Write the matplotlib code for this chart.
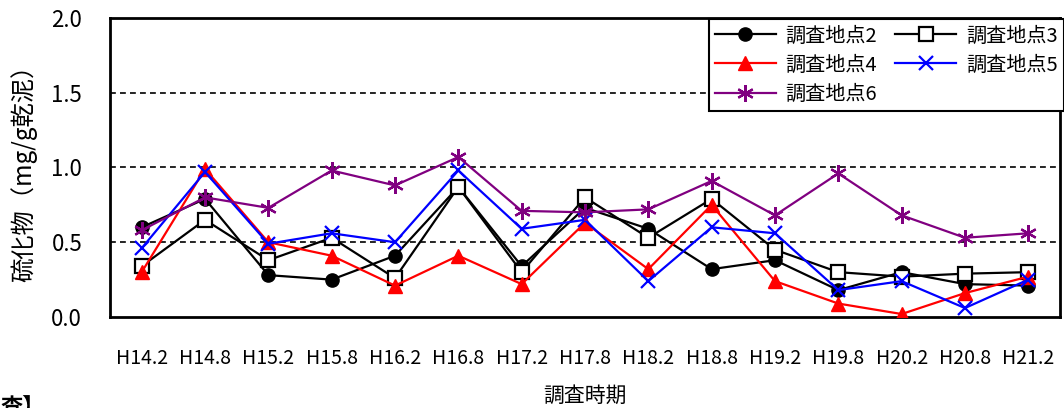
import numpy as np
import matplotlib
matplotlib.use('Agg')
import matplotlib.pyplot as plt

plt.rcParams['font.family'] = ['Noto Sans CJK JP', 'DejaVu Sans']

## ==========================
## data
## ==========================
periods = ['H14.2', 'H14.8', 'H15.2', 'H15.8', 'H16.2', 'H16.8', 'H17.2', 'H17.8',
           'H18.2', 'H18.8', 'H19.2', 'H19.8', 'H20.2', 'H20.8', 'H21.2']

site2 = [0.60, 0.79, 0.28, 0.25, 0.41, 0.87, 0.34, 0.73, 0.59, 0.32, 0.38, 0.18, 0.30, 0.22, 0.21]
site3 = [0.34, 0.65, 0.38, 0.53, 0.26, 0.87, 0.30, 0.80, 0.53, 0.79, 0.45, 0.30, 0.27, 0.29, 0.30]
site4 = [0.30, 0.99, 0.50, 0.41, 0.21, 0.41, 0.22, 0.63, 0.32, 0.75, 0.24, 0.09, 0.02, 0.16, 0.27]
site5 = [0.46, 0.97, 0.49, 0.56, 0.50, 0.98, 0.59, 0.65, 0.24, 0.60, 0.56, 0.18, 0.24, 0.06, 0.25]
site6 = [0.58, 0.80, 0.73, 0.98, 0.88, 1.07, 0.71, 0.70, 0.72, 0.91, 0.68, 0.96, 0.68, 0.53, 0.56]

names = ['調査地点2', '調査地点3', '調査地点4', '調査地点5', '調査地点6']

x = np.arange(len(periods))

fig = plt.figure(figsize=(10.64, 4.08), dpi=100)
ax = fig.add_axes([0.1034, 0.223, 0.8928, 0.733])

# grid
for g in [0.5, 1.0, 1.5]:
    ax.axhline(g, color='k', lw=1.2, ls=(0, (3.5, 2.5)), zorder=1)

lw = 1.6
h2, = ax.plot(x, site2, color='k', lw=lw, marker='o', ms=9.5, mfc='k', mec='k', zorder=3)
h3, = ax.plot(x, site3, color='k', lw=lw, marker='s', ms=9.5, mfc='white', mec='k', mew=1.6, zorder=4)
h4, = ax.plot(x, site4, color='#ff0000', lw=lw, marker='^', ms=10.5, mfc='#ff0000', mec='#ff0000', zorder=5)
h5, = ax.plot(x, site5, color='#0000ff', lw=lw, marker='x', ms=10, mew=1.6, zorder=6)
h6, = ax.plot(x, site6, color='#800080', lw=lw, marker=(6, 2, 0), ms=12, mew=1.6, zorder=7)

ax.set_xlim(-0.5, len(periods) - 0.5)
ax.set_ylim(0, 2.0)
ax.set_yticks([0.0, 0.5, 1.0, 1.5, 2.0])
ax.set_yticklabels(['0.0', '0.5', '1.0', '1.5', '2.0'])
ax.set_xticks(x)
ax.set_xticklabels(periods)
ax.tick_params(axis='x', length=0, labelsize=14, pad=22)
ax.tick_params(axis='y', length=0, labelsize=16, pad=20)

for s in ax.spines.values():
    s.set_linewidth(2)
    s.set_color('k')

ax.set_xlabel('調査時期', fontsize=15, labelpad=12)
ax.set_ylabel('硫化物（mg/g乾泥）', fontsize=17.5, labelpad=10)

# legend: rows 2,3 / 4,5 / 6
leg = ax.legend([h2, h4, h6, h3, h5],
                [names[0], names[2], names[4], names[1], names[3]],
                ncol=2, loc='upper right', bbox_to_anchor=(1.004, 0.995),
                fontsize=14.5, frameon=True, fancybox=False, borderaxespad=0,
                handlelength=3.0, handletextpad=0.5, columnspacing=0.9,
                labelspacing=0.4, borderpad=0.3)
leg.get_frame().set_edgecolor('k')
leg.get_frame().set_linewidth(1.5)
leg.get_frame().set_alpha(1)
leg.set_zorder(10)

# cut-off heading from the page below the chart
fig.text(45 / 1064, 1 - 396 / 408, '査】', fontsize=16, fontweight='bold',
         ha='right', va='top')

fig.savefig('out.png', dpi=100)
